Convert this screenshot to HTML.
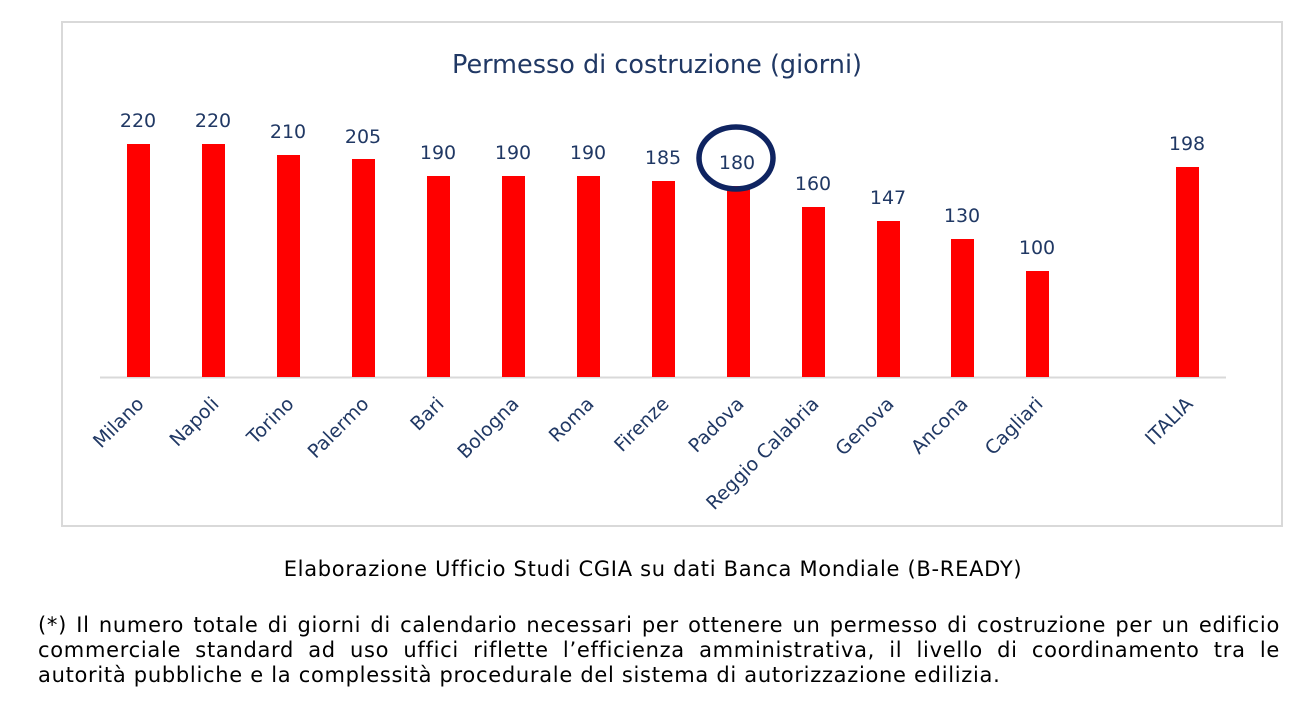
<!DOCTYPE html>
<html><head><meta charset="utf-8"><style>
body{margin:0;background:#fff;width:1306px;height:706px;overflow:hidden;font-family:"DejaVu Sans","Liberation Sans",sans-serif}
.note{position:absolute;left:38px;width:1242px;font-size:21px;letter-spacing:0.7px;color:#000;line-height:25px;white-space:nowrap}
.j{text-align:justify;text-align-last:justify;white-space:normal}
</style></head><body>
<svg width="1306" height="706" style="position:absolute;left:0;top:0" font-family="'DejaVu Sans','Liberation Sans',sans-serif">
<rect x="62" y="22" width="1220" height="504" fill="#fff" stroke="#d9d9d9" stroke-width="2"/>
<text x="657" y="73" text-anchor="middle" font-size="25.5" fill="#203864">Permesso di costruzione (giorni)</text>
<line x1="100" y1="377.5" x2="1226" y2="377.5" stroke="#d9d9d9" stroke-width="2"/>
<g fill="#ff0000">
<rect x="127" y="144" width="23" height="233"/>
<rect x="202" y="144" width="23" height="233"/>
<rect x="277" y="155" width="23" height="222"/>
<rect x="352" y="159" width="23" height="218"/>
<rect x="427" y="176" width="23" height="201"/>
<rect x="502" y="176" width="23" height="201"/>
<rect x="577" y="176" width="23" height="201"/>
<rect x="652" y="181" width="23" height="196"/>
<rect x="727" y="186" width="23" height="191"/>
<rect x="802" y="207" width="23" height="170"/>
<rect x="877" y="221" width="23" height="156"/>
<rect x="951" y="239" width="23" height="138"/>
<rect x="1026" y="271" width="23" height="106"/>
<rect x="1176" y="167" width="23" height="210"/>
</g>
<g font-size="19" fill="#203864" text-anchor="middle">
<text x="138" y="127">220</text><text x="213" y="127">220</text><text x="288" y="138">210</text>
<text x="363" y="143">205</text><text x="438" y="159">190</text><text x="513" y="159">190</text>
<text x="588" y="159">190</text><text x="663" y="164">185</text><text x="737" y="169">180</text>
<text x="813" y="190">160</text><text x="888" y="204">147</text><text x="962" y="222">130</text>
<text x="1037" y="254">100</text><text x="1187" y="150">198</text>
</g>
<ellipse cx="736" cy="158" rx="37" ry="31" fill="none" stroke="#0f2461" stroke-width="5.5"/>
<g font-size="19" fill="#203864" text-anchor="end">
<text transform="translate(145,405) rotate(-45)">Milano</text>
<text transform="translate(220,405) rotate(-45)">Napoli</text>
<text transform="translate(295,405) rotate(-45)">Torino</text>
<text transform="translate(370,405) rotate(-45)">Palermo</text>
<text transform="translate(445,405) rotate(-45)">Bari</text>
<text transform="translate(520,405) rotate(-45)">Bologna</text>
<text transform="translate(595,405) rotate(-45)">Roma</text>
<text transform="translate(670,405) rotate(-45)">Firenze</text>
<text transform="translate(745,405) rotate(-45)">Padova</text>
<text transform="translate(820,405) rotate(-45)">Reggio Calabria</text>
<text transform="translate(895,405) rotate(-45)">Genova</text>
<text transform="translate(969,405) rotate(-45)">Ancona</text>
<text transform="translate(1044,405) rotate(-45)">Cagliari</text>
<text transform="translate(1194,405) rotate(-45)">ITALIA</text>
</g>
</svg>
<div class="note" style="top:557px;text-align:center;width:1306px;left:0">Elaborazione Ufficio Studi CGIA su dati Banca Mondiale (B-READY)</div>
<div class="note j" style="top:613px">(*) Il numero totale di giorni di calendario necessari per ottenere un permesso di costruzione per un edificio</div>
<div class="note j" style="top:638px">commerciale standard ad uso uffici riflette l’efficienza amministrativa, il livello di coordinamento tra le</div>
<div class="note" style="top:663px">autorità pubbliche e la complessità procedurale del sistema di autorizzazione edilizia.</div>
</body></html>
